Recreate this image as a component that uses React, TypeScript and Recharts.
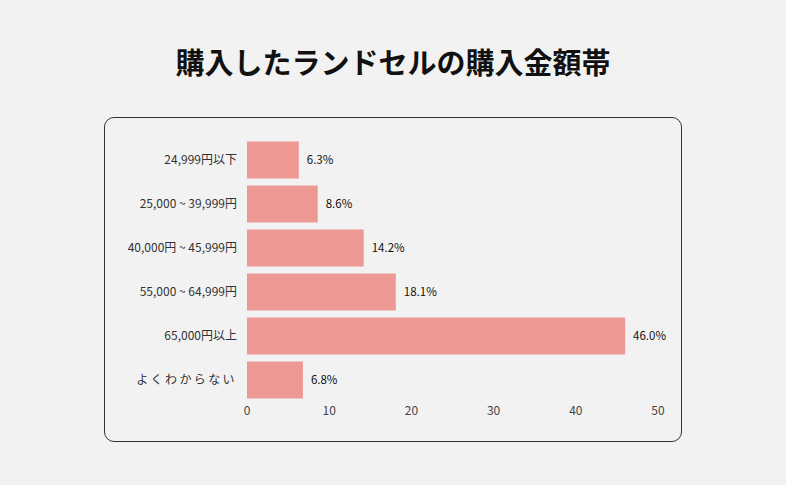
import React from 'react';
import { BarChart, Bar, XAxis, YAxis, LabelList } from 'recharts';

const categories = [
  '24,999円以下',
  '25,000 ~ 39,999円',
  '40,000円 ~ 45,999円',
  '55,000 ~ 64,999円',
  '65,000円以上',
  'よくわからない',
];
const shares = [6.3, 8.6, 14.2, 18.1, 46.0, 6.8];
const xTicks = [0, 10, 20, 30, 40, 50];

const data = categories.map((name, i) => ({ name, value: shares[i] }));

const font = '"Noto Sans CJK JP", "Noto Sans", sans-serif';

// category labels; the kana-only one is spaced out like the original
const CategoryTick = (props: any) => {
  const { x, y, payload } = props;
  const kanaOnly = /^[\u3040-\u309f]+$/.test(payload.value);
  return (
    <text
      x={x}
      y={y}
      dy="0.355em"
      textAnchor="end"
      fontSize={12}
      fill="#333"
      fontFamily={font}
      letterSpacing={kanaOnly ? 2.4 : 0}
    >
      {payload.value}
    </text>
  );
};

export default function App() {
  return (
    <div
      style={{
        position: 'fixed',
        left: 0,
        top: 0,
        width: 786,
        height: 485,
        background: '#f2f2f2',
        fontFamily: font,
      }}
    >
      <div
        style={{
          position: 'absolute',
          left: 0,
          top: 41,
          width: 786,
          textAlign: 'center',
          fontSize: 29,
          fontWeight: 700,
          color: '#111',
          lineHeight: '40px',
        }}
      >
        購入したランドセルの購入金額帯
      </div>
      <div
        style={{
          position: 'absolute',
          left: 104,
          top: 117,
          width: 576,
          height: 323,
          border: '1.5px solid #333',
          borderRadius: 10,
        }}
      />
      <div style={{ position: 'absolute', left: 0, top: 0 }}>
        <BarChart
          width={786}
          height={485}
          data={data}
          layout="vertical"
          margin={{ top: 138, right: 128, bottom: 63, left: 0 }}
          barCategoryGap="8%"
        >
          <XAxis
            type="number"
            domain={[0, 50]}
            ticks={xTicks}
            axisLine={false}
            tickLine={false}
            tickSize={0}
            tickMargin={4}
            height={20}
            tick={{ fontSize: 12, fill: '#444', fontFamily: font }}
          />
          <YAxis
            type="category"
            dataKey="name"
            width={247}
            axisLine={false}
            tickLine={false}
            tickSize={0}
            tickMargin={10}
            tick={<CategoryTick />}
          />
          <Bar dataKey="value" fill="#ee9893" isAnimationActive={false}>
            <LabelList
              dataKey="value"
              position="right"
              offset={8}
              formatter={(v: number) => v.toFixed(1) + '%'}
              style={{ fontSize: 11.5, fontWeight: 400, fill: '#111', fontFamily: font }}
            />
          </Bar>
        </BarChart>
      </div>
    </div>
  );
}
